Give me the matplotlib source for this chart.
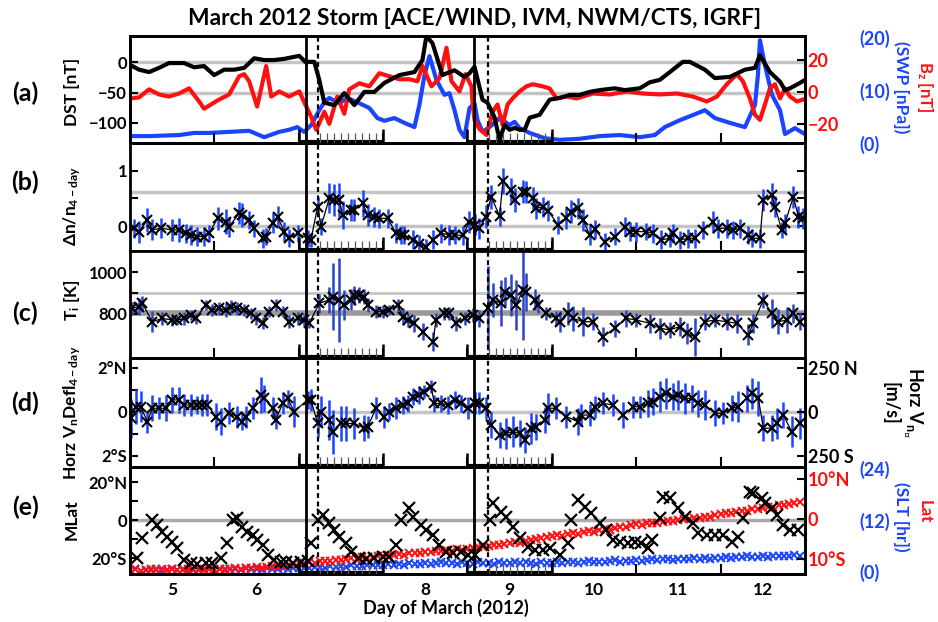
import numpy as np
import matplotlib
matplotlib.use('Agg')
import matplotlib.pyplot as plt
import matplotlib.transforms as mtransforms

plt.rcParams['font.family'] = ['Lato', 'DejaVu Sans']
plt.rcParams['font.weight'] = 'bold'
plt.rcParams['mathtext.fontset'] = 'custom'
plt.rcParams['mathtext.rm'] = 'Lato:bold'
plt.rcParams['mathtext.it'] = 'Lato:bold'
plt.rcParams['mathtext.bf'] = 'Lato:bold'
plt.rcParams['mathtext.default'] = 'rm'

RED = '#ff1010'
BLUE = '#1a44ff'
GREY = '#c4c4c4'

# storm intervals and onset markers (day of March)
storm_days = [(7, 8), (9, 10)]
onset_solid = [7.08, 9.08]
onset_dashed = [7.23, 9.24]
day_edges = [6, 7, 8, 9, 10, 11, 12]
day_mid = [5.5, 6.5, 7.5, 8.5, 9.5, 10.5, 11.5, 12.5]
day_names = ['5', '6', '7', '8', '9', '10', '11', '12']

# (a) solar wind / DST
dst_day = [5.0, 5.107, 5.226, 5.344, 5.463, 5.641, 5.760, 5.878, 5.997, 6.116,
           6.234, 6.353, 6.472, 6.591, 6.709, 6.828, 7.006, 7.077, 7.184, 7.243,
           7.303, 7.421, 7.540, 7.659, 7.777, 7.896, 8.015, 8.193, 8.371, 8.466,
           8.513, 8.585, 8.703, 8.846, 8.964, 9.024, 9.083, 9.178, 9.237, 9.320,
           9.380, 9.439, 9.499, 9.558, 9.617, 9.677, 9.736, 9.855, 9.973, 10.092,
           10.211, 10.329, 10.448, 10.567, 10.745, 10.864, 11.042, 11.160, 11.279, 11.398,
           11.552, 11.635, 11.813, 11.932, 12.110, 12.288, 12.407, 12.466, 12.585, 12.704,
           12.763, 12.822, 12.941, 13.0]
dst_val = [-4, -12, -16, -9, -1, -1, -8, -6, -21, -12,
           -12, -9, 7, 4, 4, 6, 11, 1, 1, -29,
           -67, -71, -51, -71, -49, -49, -34, -21, -16, 4,
           44, 32, -21, -13, -24, -18, -7, -62, -67, -91,
           -129, -104, -112, -109, -112, -112, -92, -87, -62, -59,
           -54, -54, -49, -46, -43, -46, -43, -33, -29, -16,
           1, 1, -12, -26, -24, -12, -9, 12, -16, -32,
           -46, -43, -34, -29]
dst_grey = [0, -50]

bz_day = [5.0, 5.107, 5.226, 5.344, 5.463, 5.582, 5.700, 5.819, 5.878, 6.056,
          6.175, 6.294, 6.353, 6.412, 6.507, 6.614, 6.674, 6.769, 6.887, 7.006,
          7.077, 7.148, 7.208, 7.303, 7.362, 7.457, 7.540, 7.599, 7.718, 7.837,
          7.955, 8.074, 8.193, 8.312, 8.407, 8.466, 8.573, 8.668, 8.751, 8.810,
          8.905, 8.976, 9.047, 9.059, 9.083, 9.142, 9.226, 9.297, 9.356, 9.415,
          9.475, 9.534, 9.617, 9.700, 9.772, 9.890, 9.973, 10.056, 10.175, 10.294,
          10.484, 10.685, 10.887, 11.077, 11.279, 11.481, 11.671, 11.837, 11.956, 12.074,
          12.193, 12.264, 12.347, 12.407, 12.466, 12.525, 12.585, 12.644, 12.704, 12.763,
          12.822, 12.905, 12.976]
bz_val = [-4.1, -3.5, 1.6, -1.6, -2.9, -1.0, 2.2, -6.0, -10.5, -4.8,
          -1.6, 9.8, 11.1, 6.7, -9.2, 16.2, -2.9, 0.3, -2.9, 0.3,
          -7.9, -15.6, -23.8, -12.4, -20.0, -2.9, -13.7, 1.6, 5.4, 3.5,
          11.7, 9.8, 7.9, 7.9, 6.7, 16.2, 3.5, 8.6, 27.6, 6.7,
          0.3, 11.1, 3.5, -6.0, -17.5, -23.2, -27.0, -12.4, -7.9, -20.6,
          -7.9, -4.1, 0.3, 3.5, 4.8, 3.5, 2.2, -4.1, -2.9, -4.1,
          -1.0, -1.6, 0.3, -1.0, -1.6, -1.0, -2.9, -6.0, -2.9, 4.8,
          11.1, 6.7, -4.1, -14.3, -17.5, -7.9, 2.2, 4.8, -4.1, 2.2,
          -2.9, -6.0, -4.8]

swp_day = [5.0, 5.226, 5.582, 5.760, 5.938, 6.175, 6.412, 6.591, 6.769, 6.887,
           6.982, 7.065, 7.148, 7.243, 7.303, 7.362, 7.481, 7.576, 7.718, 7.837,
           7.932, 8.015, 8.134, 8.252, 8.371, 8.430, 8.490, 8.549, 8.632, 8.727,
           8.786, 8.846, 8.905, 8.964, 9.024, 9.083, 9.119, 9.178, 9.261, 9.380,
           9.499, 9.558, 9.617, 9.736, 9.914, 10.092, 10.329, 10.567, 10.804, 11.042,
           11.220, 11.338, 11.516, 11.754, 11.813, 11.932, 12.110, 12.288, 12.407, 12.442,
           12.466, 12.525, 12.608, 12.704, 12.763, 12.881, 12.976]
swp_val = [1.3, 1.3, 1.5, 1.9, 1.9, 2.1, 2.3, 1.1, 2.1, 2.5,
           3.0, 2.1, 3.4, 6.2, 7.7, 8.5, 7.5, 8.5, 7.5, 6.6,
           4.7, 4.2, 4.7, 3.8, 3.0, 7.2, 12.8, 16.4, 11.9, 9.1,
           9.4, 6.2, 2.5, 1.1, 6.6, 7.5, 4.3, 2.1, 3.0, 4.7,
           3.4, 4.0, 2.8, 1.9, 0.9, 0.6, 0.8, 1.3, 1.5, 1.1,
           1.5, 3.0, 4.3, 5.8, 6.2, 4.7, 3.8, 3.0, 7.2, 12.8,
           19.4, 14.7, 9.1, 6.2, 1.7, 2.8, 1.9]

# (b) density deviation
b_day = [5.047, 5.107, 5.206, 5.265, 5.364, 5.502, 5.582, 5.661, 5.720, 5.799,
         5.878, 5.938, 6.037, 6.136, 6.175, 6.294, 6.333, 6.412, 6.472, 6.571,
         6.610, 6.690, 6.749, 6.828, 6.887, 6.986, 7.105, 7.144, 7.224, 7.263,
         7.362, 7.421, 7.481, 7.520, 7.619, 7.659, 7.758, 7.817, 7.896, 7.955,
         8.054, 8.153, 8.213, 8.252, 8.351, 8.430, 8.509, 8.589, 8.687, 8.786,
         8.846, 8.950, 9.020, 9.083, 9.142, 9.222, 9.281, 9.380, 9.420, 9.519,
         9.558, 9.657, 9.697, 9.776, 9.816, 9.895, 9.954, 10.073, 10.172, 10.231,
         10.310, 10.370, 10.449, 10.508, 10.627, 10.746, 10.864, 10.923, 11.003, 11.121,
         11.200, 11.299, 11.398, 11.437, 11.516, 11.615, 11.695, 11.794, 11.912, 11.972,
         12.071, 12.150, 12.229, 12.328, 12.368, 12.467, 12.506, 12.605, 12.645, 12.724,
         12.763, 12.862, 12.922, 12.981]
b_val = [-0.04, -0.10, 0.11, -0.07, -0.04, -0.07, -0.07, -0.13, -0.16, -0.19,
         -0.19, -0.13, 0.14, 0.08, -0.01, 0.23, 0.20, 0.11, -0.04, -0.22,
         -0.19, 0.05, 0.17, -0.10, -0.22, -0.13, -0.22, -0.25, 0.35, -0.01,
         0.50, 0.47, 0.47, 0.20, 0.29, 0.29, 0.41, 0.20, 0.17, 0.14,
         0.14, -0.13, -0.16, -0.16, -0.25, -0.32, -0.38, -0.25, -0.13, -0.16,
         -0.16, -0.17, 0.08, 0.02, -0.04, 0.17, 0.53, 0.18, 0.81, 0.65,
         0.47, 0.62, 0.62, 0.50, 0.32, 0.35, 0.28, 0.02, 0.14, 0.26,
         0.32, 0.11, -0.16, -0.06, -0.28, -0.19, -0.01, -0.10, -0.10, -0.10,
         -0.13, -0.25, -0.22, -0.13, -0.25, -0.22, -0.22, -0.07, 0.08, -0.04,
         -0.04, -0.07, -0.04, -0.16, -0.22, -0.22, 0.47, 0.56, 0.35, -0.07,
         0.05, 0.53, 0.17, 0.14]
b_err = [0.17, 0.20, 0.21, 0.19, 0.18, 0.20, 0.22, 0.17, 0.18, 0.17,
         0.17, 0.15, 0.21, 0.23, 0.18, 0.20, 0.22, 0.17, 0.15, 0.17,
         0.16, 0.18, 0.19, 0.17, 0.16, 0.15, 0.15, 0.13, 0.17, 0.15,
         0.27, 0.29, 0.31, 0.25, 0.19, 0.20, 0.25, 0.19, 0.18, 0.17,
         0.17, 0.18, 0.17, 0.16, 0.17, 0.15, 0.15, 0.17, 0.17, 0.18,
         0.17, 0.17, 0.20, 0.19, 0.19, 0.21, 0.22, 0.17, 0.23, 0.21,
         0.22, 0.21, 0.20, 0.20, 0.19, 0.18, 0.19, 0.16, 0.19, 0.21,
         0.19, 0.20, 0.19, 0.17, 0.15, 0.16, 0.17, 0.17, 0.18, 0.16,
         0.17, 0.17, 0.16, 0.17, 0.16, 0.17, 0.17, 0.17, 0.20, 0.17,
         0.17, 0.16, 0.17, 0.17, 0.16, 0.17, 0.20, 0.21, 0.19, 0.15,
         0.17, 0.20, 0.20, 0.19]
b_grey = [0.62, 0.0]

# (c) ion temperature
c_day = [5.028, 5.107, 5.146, 5.265, 5.384, 5.502, 5.562, 5.641, 5.720, 5.779,
         5.898, 5.977, 6.056, 6.136, 6.195, 6.274, 6.353, 6.432, 6.492, 6.571,
         6.650, 6.729, 6.808, 6.887, 6.986, 7.065, 7.125, 7.243, 7.362, 7.402,
         7.481, 7.540, 7.619, 7.659, 7.718, 7.777, 7.817, 7.916, 7.995, 8.074,
         8.173, 8.232, 8.292, 8.371, 8.470, 8.589, 8.628, 8.727, 8.786, 8.866,
         8.965, 9.063, 9.142, 9.241, 9.301, 9.400, 9.440, 9.519, 9.578, 9.657,
         9.697, 9.796, 9.835, 9.934, 10.053, 10.093, 10.192, 10.251, 10.370, 10.488,
         10.607, 10.746, 10.884, 11.003, 11.161, 11.280, 11.398, 11.516, 11.596, 11.695,
         11.814, 11.932, 12.071, 12.190, 12.328, 12.387, 12.506, 12.605, 12.684, 12.783,
         12.862, 12.941]
c_val = [827, 835, 851, 763, 779, 771, 771, 779, 795, 779,
         843, 819, 827, 819, 835, 827, 819, 803, 779, 756,
         811, 843, 811, 763, 779, 771, 756, 851, 867, 883,
         867, 843, 867, 890, 890, 883, 843, 811, 811, 819,
         843, 787, 771, 756, 716, 668, 771, 803, 803, 756,
         779, 795, 779, 827, 867, 851, 906, 890, 843, 914,
         906, 867, 843, 803, 779, 763, 803, 779, 763, 763,
         692, 732, 779, 771, 756, 732, 724, 740, 708, 692,
         763, 771, 763, 756, 700, 756, 867, 803, 763, 771,
         803, 763]
c_err = [30, 40, 35, 50, 30, 30, 25, 30, 25, 25,
         25, 30, 30, 35, 30, 30, 30, 25, 30, 30,
         25, 30, 25, 30, 30, 30, 25, 45, 60, 160,
         200, 70, 50, 45, 40, 35, 35, 30, 30, 25,
         30, 40, 35, 40, 40, 45, 35, 30, 30, 35,
         30, 35, 40, 200, 80, 110, 70, 100, 120, 240,
         90, 50, 40, 30, 35, 50, 55, 60, 70, 40,
         45, 40, 40, 35, 45, 50, 40, 45, 50, 90,
         40, 35, 40, 45, 50, 45, 40, 70, 60, 60,
         45, 40]
c_thin = 900
c_mean = 805

# (d) horizontal neutral wind deflection
d_day = [5.008, 5.067, 5.126, 5.206, 5.265, 5.344, 5.423, 5.502, 5.582, 5.641,
         5.720, 5.799, 5.858, 5.918, 6.017, 6.076, 6.175, 6.274, 6.333, 6.373,
         6.452, 6.551, 6.591, 6.690, 6.729, 6.808, 6.867, 6.946, 7.105, 7.144,
         7.224, 7.263, 7.362, 7.402, 7.501, 7.560, 7.659, 7.777, 7.817, 7.916,
         8.015, 8.074, 8.153, 8.232, 8.292, 8.351, 8.430, 8.489, 8.569, 8.608,
         8.687, 8.767, 8.846, 8.925, 9.004, 9.083, 9.142, 9.222, 9.281, 9.380,
         9.459, 9.538, 9.617, 9.677, 9.756, 9.816, 9.915, 9.954, 10.053, 10.172,
         10.310, 10.350, 10.449, 10.508, 10.607, 10.725, 10.844, 10.963, 11.042, 11.141,
         11.200, 11.279, 11.358, 11.437, 11.497, 11.576, 11.655, 11.734, 11.813, 11.932,
         12.031, 12.130, 12.209, 12.308, 12.368, 12.447, 12.506, 12.605, 12.664, 12.743,
         12.842, 12.941]
d_val = [-0.29, 0.24, 0.24, -0.44, 0.17, 0.17, 0.17, 0.55, 0.55, 0.32,
         0.32, 0.32, 0.32, 0.32, -0.21, -0.44, -0.06, -0.21, -0.44, -0.21,
         0.17, 0.77, 0.62, 0.17, -0.36, 0.39, 0.62, 0.02, 0.55, 0.55,
         -0.52, 0.02, -0.36, -0.89, -0.52, -0.52, -0.52, -0.74, -0.67, 0.17,
         -0.21, 0.02, 0.17, 0.32, 0.39, 0.70, 0.77, 0.92, 1.15, 0.39,
         0.39, 0.32, 0.55, 0.39, 0.17, 0.39, 0.39, 0.17, -0.59, -1.05,
         -0.97, -0.89, -0.97, -1.27, -0.74, -0.67, -0.36, 0.17, 0.17, -0.21,
         -0.44, -0.14, -0.14, 0.24, 0.39, 0.32, -0.14, 0.24, 0.24, 0.39,
         0.47, 0.70, 0.85, 0.70, 0.77, 0.62, 0.62, 0.39, 0.32, -0.06,
         -0.06, 0.17, 0.24, 0.62, 0.85, 0.62, -0.74, -0.74, -0.52, -0.14,
         -0.89, -0.52]
d_err = [0.9, 0.8, 0.7, 0.5, 0.6, 0.5, 0.6, 0.6, 0.6, 0.5,
         0.5, 0.4, 0.5, 0.5, 0.6, 0.6, 0.5, 0.5, 0.4, 0.5,
         0.5, 0.8, 0.6, 0.5, 0.4, 0.5, 0.4, 0.7, 0.4, 0.5,
         0.6, 0.7, 0.9, 1.0, 0.8, 0.8, 0.7, 0.6, 0.5, 0.5,
         0.5, 0.4, 0.5, 0.4, 0.4, 0.4, 0.4, 0.3, 0.3, 0.4,
         0.4, 0.4, 0.4, 0.4, 0.5, 0.5, 0.5, 0.5, 0.6, 0.6,
         0.7, 0.7, 0.6, 0.6, 0.7, 0.6, 0.6, 0.7, 0.5, 0.5,
         0.6, 0.5, 0.5, 0.5, 0.5, 0.5, 0.6, 0.5, 0.5, 0.6,
         0.6, 0.7, 0.7, 0.6, 0.7, 0.7, 0.6, 0.6, 0.7, 0.6,
         0.5, 0.6, 0.7, 0.6, 0.7, 0.8, 0.6, 0.6, 0.7, 0.6,
         0.7, 0.7]
deg_per_ms = 2 / 250

# (e) satellite magnetic latitude, geographic latitude, local time
e_day = [5.087, 5.146, 5.265, 5.324, 5.384, 5.443, 5.502, 5.562, 5.641, 5.720,
         5.799, 5.898, 5.977, 6.076, 6.155, 6.215, 6.274, 6.333, 6.392, 6.452,
         6.511, 6.571, 6.630, 6.709, 6.788, 6.848, 6.927, 7.026, 7.105, 7.144,
         7.224, 7.283, 7.362, 7.421, 7.481, 7.560, 7.619, 7.718, 7.797, 7.896,
         7.995, 8.074, 8.153, 8.213, 8.312, 8.351, 8.450, 8.509, 8.589, 8.668,
         8.747, 8.826, 8.925, 9.004, 9.083, 9.182, 9.261, 9.301, 9.400, 9.459,
         9.538, 9.617, 9.716, 9.795, 9.894, 9.974, 10.093, 10.192, 10.231, 10.310,
         10.390, 10.469, 10.568, 10.647, 10.726, 10.805, 10.904, 10.983, 11.062, 11.141,
         11.181, 11.280, 11.319, 11.398, 11.497, 11.576, 11.675, 11.734, 11.833, 11.932,
         12.031, 12.130, 12.209, 12.269, 12.348, 12.387, 12.487, 12.526, 12.605, 12.665,
         12.743, 12.822, 12.922]
e_mlat = [-20.2, -9.6, 0.0, -2.6, -6.1, -8.8, -11.4, -14.9, -21.1, -22.8,
          -23.2, -22.8, -22.5, -20.2, -12.3, 0.0, 0.9, -3.5, -6.1, -7.9,
          -10.5, -13.2, -18.4, -21.1, -21.9, -21.9, -22.5, -21.9, -21.4, -12.3,
          0.0, 2.6, -1.8, -5.3, -8.8, -12.3, -16.7, -20.2, -20.7, -20.2,
          -19.3, -19.3, -13.2, 0.0, 6.1, 1.8, -2.6, -5.3, -7.9, -13.2,
          -16.7, -17.5, -16.7, -18.4, -18.4, -13.2, 0.0, 8.8, 4.4, 1.8,
          -3.5, -9.6, -14.0, -15.8, -15.8, -14.9, -18.4, -12.3, 0.0, 10.5,
          7.0, 3.5, -1.8, -5.3, -10.5, -11.4, -12.3, -11.4, -12.3, -14.9,
          -10.5, 0.9, 12.3, 11.4, 6.1, 1.8, -1.8, -7.0, -7.9, -7.9,
          -7.9, -11.4, -8.8, 0.9, 14.9, 14.0, 11.4, 8.8, 6.1, 2.6,
          -2.6, -5.3, -5.3]
# geographic latitude and SLT, sampled every 1.5 h from 5 March 00 UT
band_start = 5.0
band_step_hr = 1.5
lat_red = [-12.8, -12.6, -12.9, -12.7, -12.6, -12.8, -12.5, -12.7, -12.6, -12.8, -12.5, -12.6, -12.7, -12.4, -12.6, -12.5,
           -12.5, -12.6, -12.4, -12.5, -12.3, -12.4, -12.2, -12.3, -12.1, -12.2, -12.0, -11.8, -11.9, -11.6, -11.4, -11.3,
           -11.0, -11.1, -10.8, -10.9, -10.6, -10.4, -10.5, -10.2, -10.3, -10.0, -9.8, -9.9, -9.6, -9.7, -9.4, -9.3,
           -9.2, -9.0, -9.1, -8.8, -8.9, -8.6, -8.4, -8.5, -8.2, -8.3, -8.0, -8.1, -7.8, -7.9, -7.6, -7.7,
           -7.5, -7.3, -7.0, -7.1, -6.7, -6.5, -6.6, -6.2, -6.0, -5.8, -5.9, -5.5, -5.3, -5.1, -4.8, -4.6,
           -4.3, -4.1, -4.2, -3.8, -3.6, -3.7, -3.3, -3.1, -3.2, -2.8, -2.6, -2.7, -2.3, -2.1, -1.9, -1.6,
           -1.3, -1.4, -1.1, -0.9, -1.0, -0.7, -0.5, -0.6, -0.3, -0.1, 0.0, 0.2, 0.3, 0.5, 0.6, 0.9,
           1.2, 1.4, 1.5, 1.8, 2.0, 2.1, 2.4, 2.5, 2.8, 3.0, 3.1, 3.4, 3.6, 3.8, 4.0, 4.3]
slt_blue = [0.3, 0.5, 0.2, 0.4, 0.3, 0.6, 0.2, 0.4, 0.5, 0.3, 0.4, 0.2, 0.5, 0.3, 0.4, 0.6,
            0.4, 0.5, 0.3, 0.6, 0.5, 0.4, 0.7, 0.5, 0.6, 0.4, 0.7, 0.6, 0.5, 0.8, 0.6, 0.7,
            0.8, 0.9, 0.7, 1.0, 1.1, 0.9, 1.2, 1.0, 1.3, 1.1, 1.4, 1.2, 1.3, 1.5, 1.4, 1.6,
            1.5, 1.7, 1.6, 1.8, 1.6, 1.9, 1.7, 1.8, 2.0, 1.8, 1.9, 2.1, 1.9, 2.0, 1.8, 2.1,
            2.0, 1.8, 2.1, 1.9, 2.0, 1.8, 2.1, 1.9, 2.0, 2.2, 1.9, 2.1, 2.0, 1.8, 2.1, 2.0,
            2.0, 2.2, 1.9, 2.1, 2.3, 2.0, 2.2, 2.4, 2.1, 2.3, 2.2, 2.4, 2.6, 2.3, 2.5, 2.4,
            2.6, 2.5, 2.7, 2.9, 2.6, 2.8, 3.0, 2.7, 2.9, 2.8, 3.0, 3.1, 2.9, 3.1, 3.0, 3.2,
            3.1, 3.3, 3.2, 3.4, 3.3, 3.5, 3.4, 3.3, 3.6, 3.4, 3.5, 3.7, 3.5, 3.6, 3.8, 3.6]

lat_day = band_start + np.arange(len(lat_red)) * band_step_hr / 24
slt_day = band_start + np.arange(len(slt_blue)) * band_step_hr / 24


def blend(ax):
    return mtransforms.blended_transform_factory(ax.transData, ax.transAxes)


def base_style(ax):
    ax.set_xlim(5, 13)
    for sp in ax.spines.values():
        sp.set_linewidth(2)
    ax.set_xticks(day_edges)
    ax.set_xticks(day_mid, minor=True)
    ax.tick_params(axis='x', which='major', direction='in', length=7, width=1.5,
                   labelbottom=False, top=False)
    ax.tick_params(axis='x', which='minor', length=0, labelbottom=False)
    ax.tick_params(axis='y', which='both', direction='in', length=6, width=1.5,
                   labelsize=12, right=True, pad=2)
    tr = blend(ax)
    for s, e in storm_days:
        ax.plot([s, e], [0.012, 0.012], transform=tr, color='k', lw=3,
                solid_capstyle='butt', clip_on=False, zorder=8)
        ax.vlines([s, e], 0, 0.13, transform=tr, color='k', lw=1.8, zorder=8)
        ax.vlines(np.arange(s + 0.25, e, 1 / 12), 0, 0.09, transform=tr,
                  color='0.35', lw=0.9, zorder=8)
    for t in onset_solid:
        ax.axvline(t, color='k', lw=2, zorder=9)
    for t in onset_dashed:
        ax.axvline(t, color='k', lw=1.6, ls=(0, (2.2, 1.6)), zorder=9)


def side_axis(ax, pos):
    tw = ax.twinx()
    for sp in tw.spines.values():
        sp.set_visible(False)
    tw.spines['right'].set_position(('axes', pos))
    return tw


fig = plt.figure(figsize=(9.38, 6.22), dpi=100)
left, width = 0.1386, 0.7196
rows = [(0.7701, 0.1720), (0.5965, 0.1736), (0.4244, 0.1720), (0.2492, 0.1752), (0.0772, 0.1720)]
axes = [fig.add_axes([left, b, width, h]) for b, h in rows]
for ax in axes:
    base_style(ax)

# ---- (a)
ax = axes[0]
ax.set_ylim(-134, 44)
ax.set_yticks([-100, -50, 0])
ax_bz = ax.twinx()
ax_bz.set_ylim(-32, 35)
ax_bz.set_yticks([-20, 0, 20])
ax_bz.tick_params(axis='y', direction='in', length=6, width=1.5, labelsize=13,
                  labelcolor=RED, pad=2)
for sp in ax_bz.spines.values():
    sp.set_linewidth(2)
ax_sw = side_axis(ax, 1.08)
ax_sw.set_ylim(0, 20.2)
ax_sw.set_yticks([0, 10, 20])
ax_sw.set_yticklabels(['(0)', '(10)', '(20)'])
ax_sw.tick_params(axis='y', length=0, labelsize=13, labelcolor=BLUE, pad=0)
ax_sw.set_zorder(1)
ax_bz.set_zorder(2)
ax.set_zorder(3)
ax.patch.set_visible(False)
for g in dst_grey:
    ax_sw.plot([0, 1], [g, g], transform=ax.get_yaxis_transform(), color=GREY, lw=2.5, zorder=0)
ax_sw.plot(swp_day, swp_val, color=BLUE, lw=3, clip_on=True)
ax_bz.plot(bz_day, bz_val, color=RED, lw=3)
ax.plot(dst_day, dst_val, color='k', lw=3)

# ---- (b)
ax = axes[1]
ax.set_ylim(-0.45, 1.5)
ax.set_yticks([0, 0.5, 1])
ax.set_yticklabels(['0', '', '1'])
for g in b_grey:
    ax.axhline(g, color=GREY, lw=2.5, zorder=1)
ax.errorbar(b_day, b_val, yerr=b_err, fmt='none', ecolor=BLUE, elinewidth=1.8, zorder=2)
ax.plot(b_day, b_val, '-x', color='k', lw=0.9, ms=7, mew=1.5, zorder=3)

# ---- (c)
ax = axes[2]
ax.set_ylim(590, 1100)
ax.set_yticks([800, 900, 1000])
ax.set_yticklabels(['800', '', '1000'])
ax.axhline(c_thin, color=GREY, lw=2, zorder=1)
ax.axhline(c_mean, color='#9a9a9a', lw=4, zorder=1)
ax.errorbar(c_day, c_val, yerr=c_err, fmt='none', ecolor='#2b45c8', elinewidth=1.8, zorder=2)
ax.plot(c_day, c_val, '-x', color='k', lw=0.9, ms=7, mew=1.5, zorder=3)

# ---- (d)
ax = axes[3]
ax.set_ylim(-2.5, 2.45)
ax.set_yticks([-2, -1, 0, 1, 2])
ax.set_yticklabels(['2°S', '', '0', '', '2°N'])
ax.axhline(0, color=GREY, lw=2.5, zorder=1)
ax.errorbar(d_day, d_val, yerr=d_err, fmt='none', ecolor=BLUE, elinewidth=1.8, zorder=2)
ax.plot(d_day, d_val, '-x', color='k', lw=0.9, ms=7, mew=1.5, zorder=3)
ax_w = ax.twinx()
ax_w.set_ylim(-2.5 / deg_per_ms, 2.45 / deg_per_ms)
ax_w.set_yticks([-250, 0, 250])
ax_w.set_yticklabels(['250 S', '0', '250 N'])
ax_w.tick_params(axis='y', direction='in', length=6, width=1.5, labelsize=13, pad=2)
for sp in ax_w.spines.values():
    sp.set_linewidth(2)

# ---- (e)
ax = axes[4]
ax.set_ylim(-28.4, 27.9)
ax.set_yticks([-20, -10, 0, 10, 20])
ax.set_yticklabels(['20°S', '', '0', '', '20°N'])
ax.tick_params(axis='x', which='minor', labelbottom=True, labelsize=12.5, pad=6)
ax.set_xticklabels(day_names, minor=True)
ax_lat = ax.twinx()
ax_lat.set_ylim(-13.75, 13)
ax_lat.set_yticks([-10, 0, 10])
ax_lat.set_yticklabels(['10°S', '0', '10°N'])
ax_lat.tick_params(axis='y', direction='in', length=6, width=1.5, labelsize=13,
                   labelcolor=RED, pad=2)
for sp in ax_lat.spines.values():
    sp.set_linewidth(2)
ax_slt = side_axis(ax, 1.08)
ax_slt.set_ylim(-0.6, 24.35)
ax_slt.set_yticks([0, 12, 24])
ax_slt.set_yticklabels(['(0)', '(12)', '(24)'])
ax_slt.tick_params(axis='y', length=0, labelsize=13, labelcolor=BLUE, pad=0)
ax_slt.set_zorder(1)
ax_lat.set_zorder(2)
ax.set_zorder(3)
ax.patch.set_visible(False)
ax_slt.plot([0, 1], [0, 0], transform=ax.get_yaxis_transform(), color='#aaaaaa', lw=2.5, zorder=0)
ax_slt.plot(slt_day, slt_blue, 'x', color=BLUE, ms=5.5, mew=1.4)
ax_lat.plot(lat_day, lat_red, 'x', color=RED, ms=5.5, mew=1.4)
ax.plot(e_day, e_mlat, 'x', color='k', ms=8, mew=1.6, zorder=5)

# ---- labels
fig.text(0.506, 0.971, 'March 2012 Storm [ACE/WIND, IVM, NWM/CTS, IGRF]',
         ha='center', va='center', fontsize=16.4, fontweight='bold')
fig.text(0.475, 0.0225, 'Day of March (2012)', ha='center', va='center', fontsize=13)

ylabels = ['DST [nT]', r'$\Delta$n/n$_{4-day}$', r'T$_{i}$ [K]',
           r'Horz V$_{n}$Defl$_{4-day}$', 'MLat']
ylabel_y = [0.852, 0.669, 0.518, 0.336, 0.164]
letters = ['(a)', '(b)', '(c)', '(d)', '(e)']
letter_y = [0.850, 0.707, 0.497, 0.352, 0.185]
for lab, yl, let, yt in zip(ylabels, ylabel_y, letters, letter_y):
    fig.text(0.0768, yl, lab, rotation=90, ha='center', va='center', fontsize=12.5)
    fig.text(0.027, yt, let, ha='center', va='center', fontsize=18)

fig.text(0.961, 0.860, '(SWP [nPa])', rotation=270, ha='center', va='center',
         fontsize=12.5, color=BLUE)
fig.text(0.986, 0.860, r'B$_{z}$ [nT]', rotation=270, ha='center', va='center',
         fontsize=12, color=RED)
fig.text(0.963, 0.352, 'Horz V$_{n_{\\perp}}$\n[m/s]', rotation=270, ha='center', va='center',
         fontsize=13, linespacing=1.1)
fig.text(0.961, 0.169, '(SLT [hr])', rotation=270, ha='center', va='center',
         fontsize=12.5, color=BLUE)
fig.text(0.986, 0.177, 'Lat', rotation=270, ha='center', va='center',
         fontsize=12, color=RED)

fig.savefig('out.png', dpi=100, facecolor='white')
